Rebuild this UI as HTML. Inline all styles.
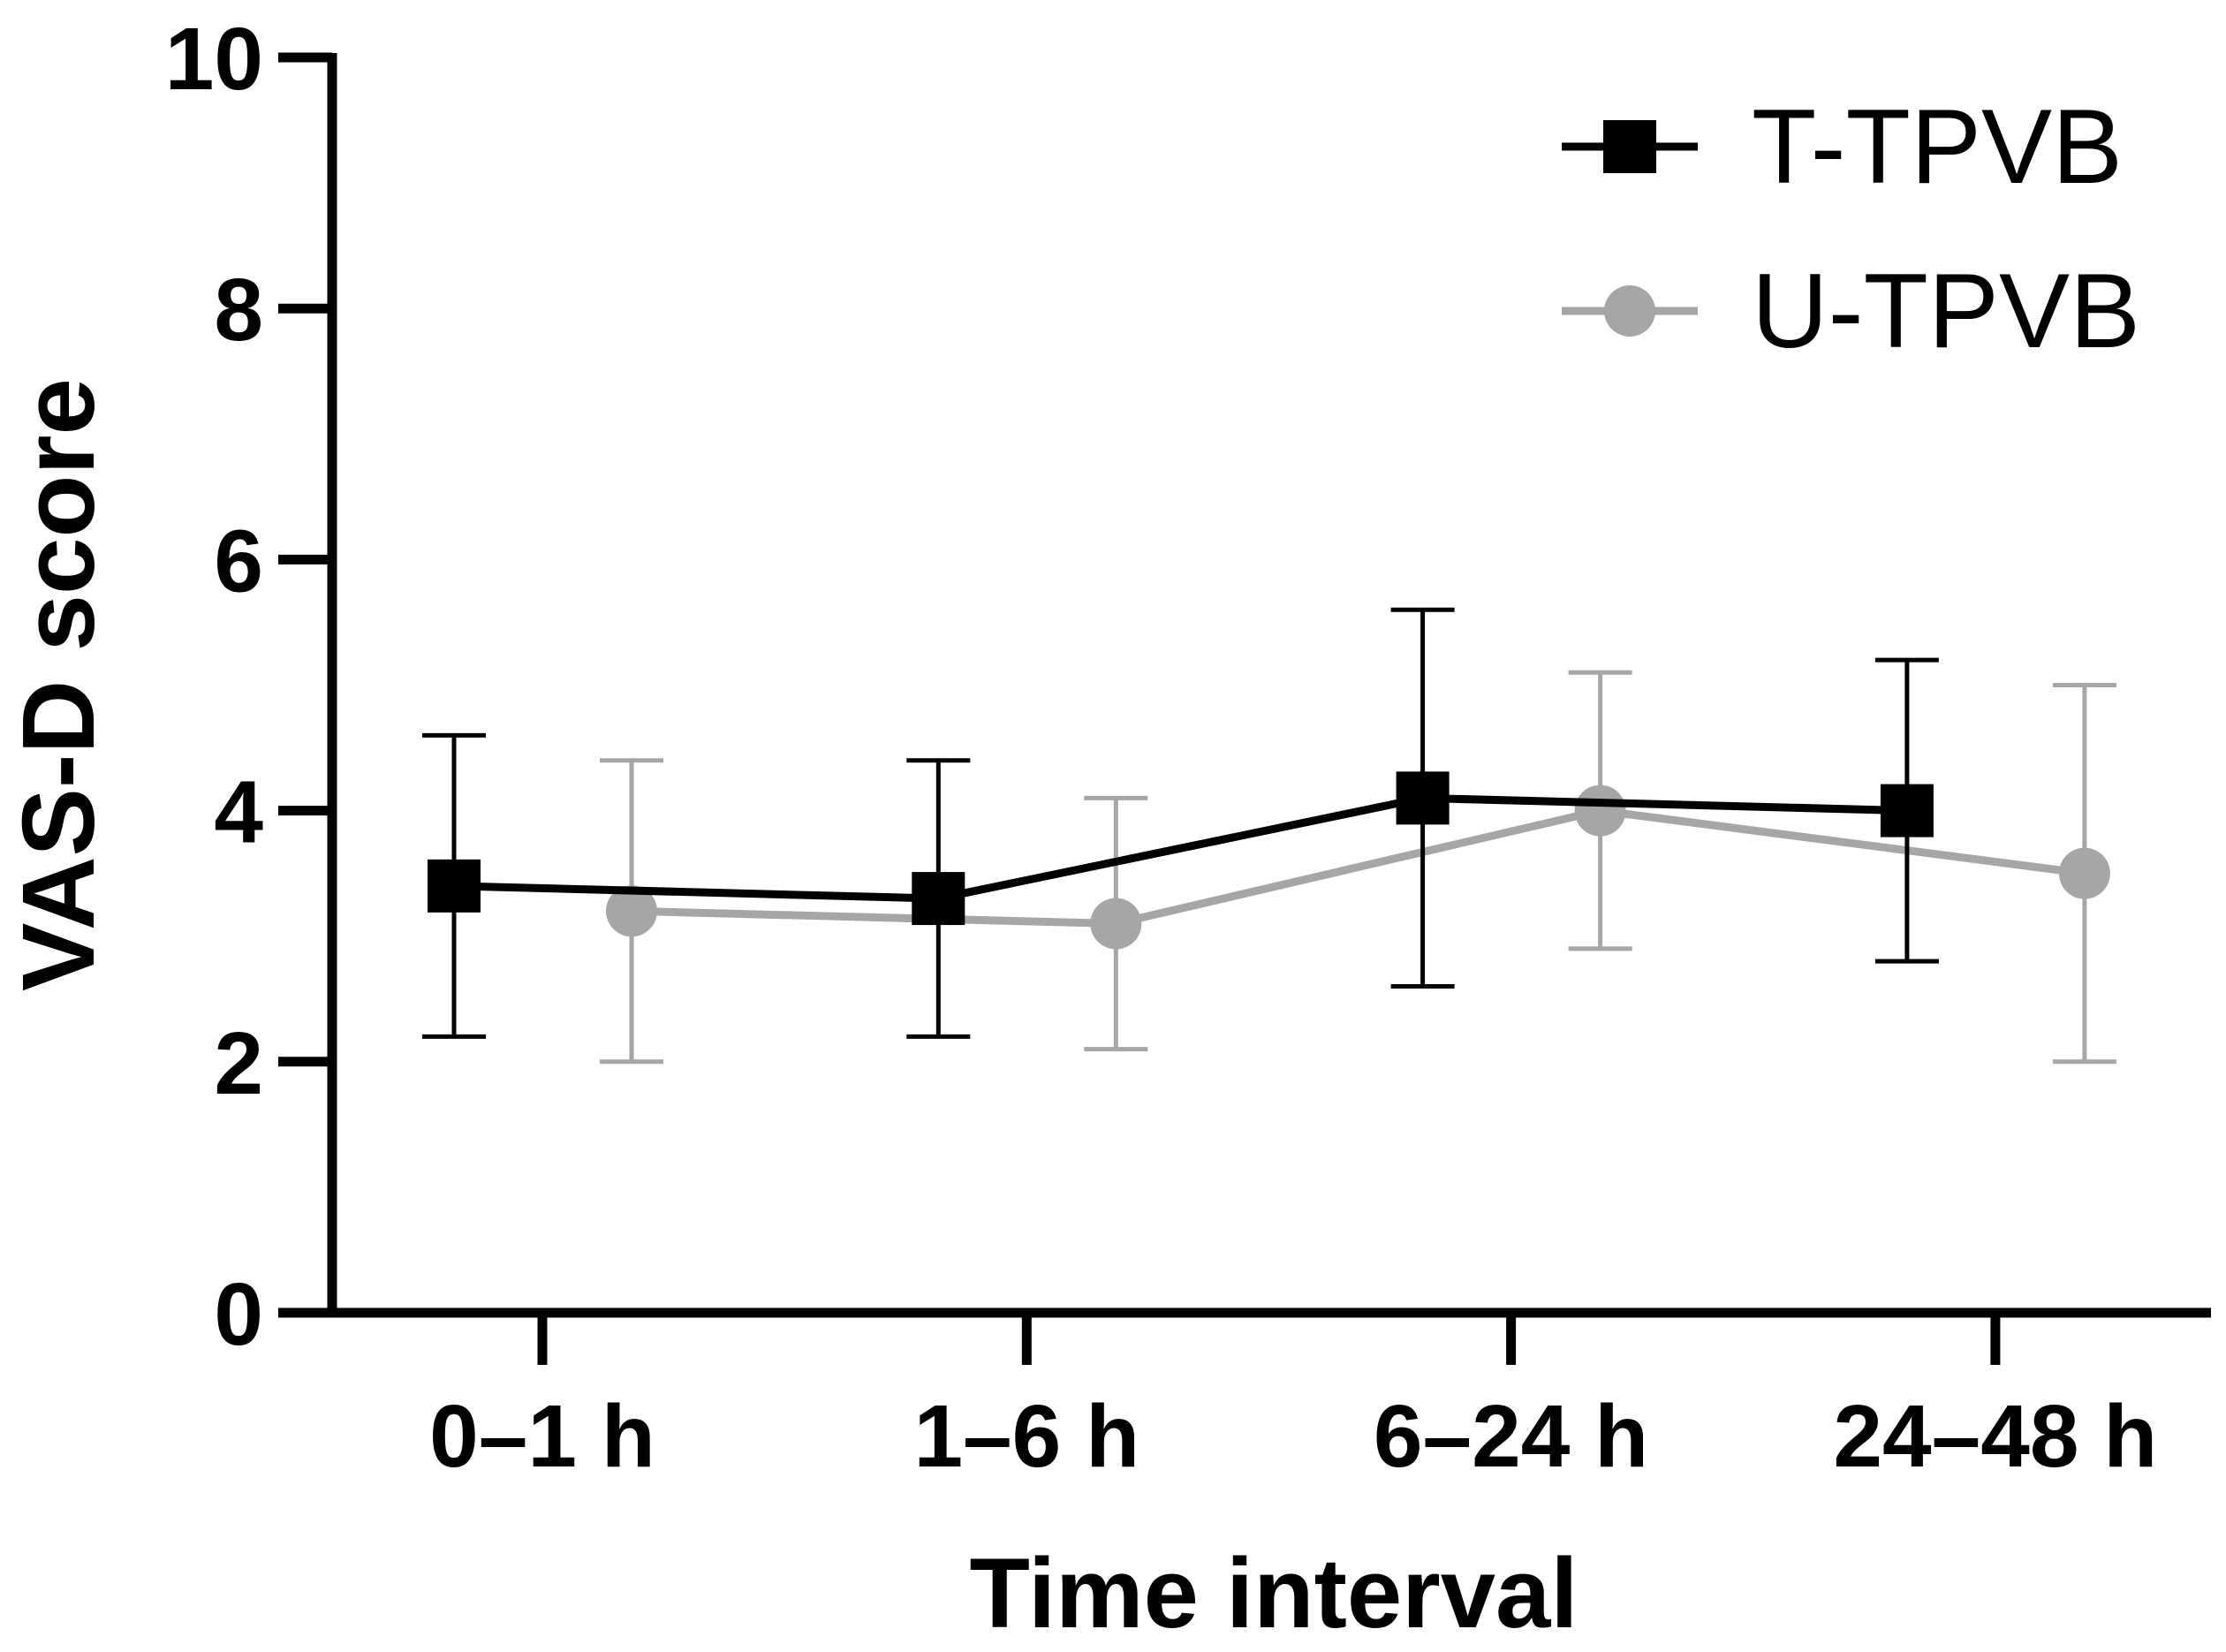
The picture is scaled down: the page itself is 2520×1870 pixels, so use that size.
<!DOCTYPE html>
<html><head><meta charset="utf-8"><style>
html,body{margin:0;padding:0;background:#fff;}
svg{display:block;font-family:"Liberation Sans",Arial,sans-serif;}
</style></head><body>
<svg id="chart" width="2520" height="1870" viewBox="0 0 2520 1870">
<g id="axes"></g><g id="series"></g>
<g>
 <g>
  <line x1="1768" y1="166" x2="1922" y2="166" stroke="#000" stroke-width="9"/>
  <rect x="1815" y="136" width="60" height="60" fill="#000"/>
  <text x="1983" y="207" font-size="120" fill="#000">T-TPVB</text>
 </g>
 <g>
  <line x1="1768" y1="352" x2="1922" y2="352" stroke="#a6a6a6" stroke-width="9"/>
  <circle cx="1845" cy="352" r="29" fill="#a6a6a6"/>
  <text x="1983" y="393" font-size="120" fill="#000">U-TPVB</text>
 </g>
</g>
<text x="1442" y="1842" font-size="112" font-weight="bold" text-anchor="middle">Time interval</text>
<text transform="translate(106,775) rotate(-90)" font-size="116" font-weight="bold" text-anchor="middle">VAS-D score</text>
</svg>
<script>
const categories=["0–1 h","1–6 h","6–24 h","24–48 h"];
const tMean=[3.4,3.3,4.1,4.0];
const tLow=[2.2,2.2,2.6,2.8];
const tHigh=[4.6,4.4,5.6,5.2];
const uMean=[3.2,3.1,4.0,3.5];
const uLow=[2.0,2.1,2.9,2.0];
const uHigh=[4.4,4.1,5.1,5.0];
const yTicks=[0,2,4,6,8,10];
const NS="http://www.w3.org/2000/svg";
const X0=376,X1=2503,Y0=1486,Y10=65;
const y=v=>Y0-(v/10)*(Y0-Y10);
const xc=i=>614+i*548.3;
function mk(tag,attrs,parent){const e=document.createElementNS(NS,tag);for(const k in attrs)e.setAttribute(k,attrs[k]);parent.appendChild(e);return e;}
const axes=document.getElementById('axes'),series=document.getElementById('series');
let a=mk('line',{x1:X0,y1:Y10-5,x2:X0,y2:Y0+5,stroke:'#000','stroke-width':11},axes);


a=mk('line',{x1:X0-5,y1:Y0,x2:X1,y2:Y0,stroke:'#000','stroke-width':11},axes);


yTicks.forEach(v=>{
 const t=mk('line',{x1:315,y1:y(v),x2:X0,y2:y(v),stroke:'#000','stroke-width':11},axes);
 
 
 const l=mk('text',{x:298,y:y(v)+36,'font-size':100,'font-weight':'bold','text-anchor':'end'},axes);
 l.textContent=v;
 
 
});
categories.forEach((c,i)=>{
 const t=mk('line',{x1:xc(i),y1:Y0,x2:xc(i),y2:1545,stroke:'#000','stroke-width':11},axes);
 
 
 const l=mk('text',{x:xc(i),y:1660,'font-size':100,'font-weight':'bold','text-anchor':'middle'},axes);
 l.textContent=c;
 
 
});
function draw(mean,low,high,off,color,kind,name){
 const g=mk('g',{},series);
 
 
 mean.forEach((m,i)=>{
  const x=xc(i)+off;
  const e=mk('path',{d:`M${x},${y(low[i])}V${y(high[i])}M${x-36},${y(low[i])}H${x+36}M${x-36},${y(high[i])}H${x+36}`,stroke:color,'stroke-width':5,fill:'none'},g);
  
  
 });
 const pl=mk('polyline',{points:mean.map((m,i)=>(xc(i)+off)+','+y(m)).join(' '),stroke:color,'stroke-width':9,fill:'none'},g);
 
 
 mean.forEach((m,i)=>{
  const x=xc(i)+off;let p;
  if(kind==='sq')p=mk('rect',{x:x-30,y:y(m)-30,width:60,height:60,fill:color},g);
  else p=mk('circle',{cx:x,cy:y(m),r:29,fill:color},g);
  
  
 });
}
draw(uMean,uLow,uHigh,101,'#a6a6a6','ci','u-tpvb');
draw(tMean,tLow,tHigh,-100,'#000','sq','t-tpvb');
</script>
</body></html>
